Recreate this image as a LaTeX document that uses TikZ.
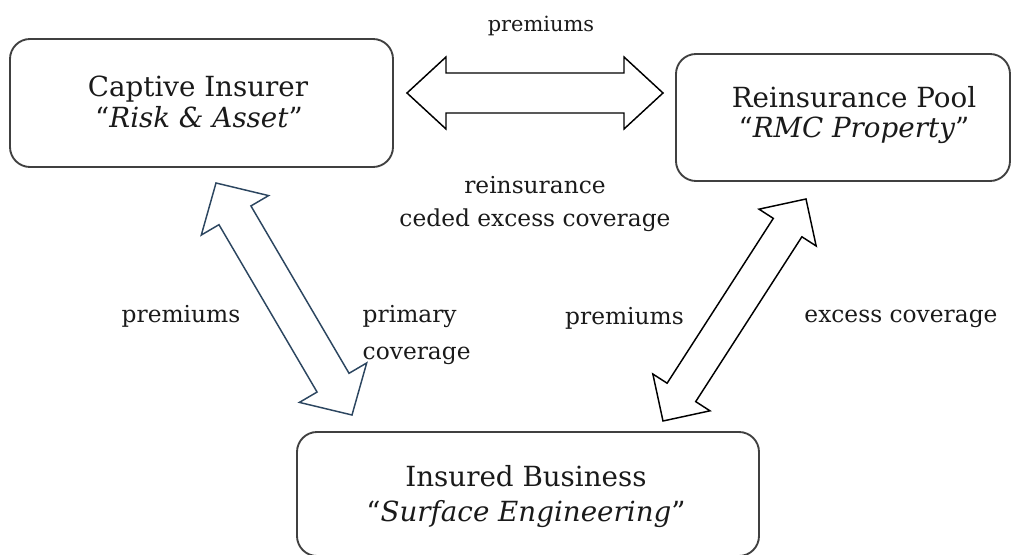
\documentclass[tikz,border=0pt]{standalone}
\usepackage{fontspec}
\setmainfont{DejaVu Serif}
\usetikzlibrary{calc}
\definecolor{boxline}{HTML}{404040}
\definecolor{bluearrow}{HTML}{2C4660}
\definecolor{inktext}{HTML}{1A1A1A}
\newcommand{\dblarr}[6]{%
  \draw[#1] (#2)
    -- ($(#2)!#4!(#3)!#5!90:(#3)$)
    -- ($(#2)!#4!(#3)!#6!90:(#3)$)
    -- ($(#3)!#4!(#2)!#6!-90:(#2)$)
    -- ($(#3)!#4!(#2)!#5!-90:(#2)$)
    -- (#3)
    -- ($(#3)!#4!(#2)!#5!90:(#2)$)
    -- ($(#3)!#4!(#2)!#6!90:(#2)$)
    -- ($(#2)!#4!(#3)!#6!-90:(#3)$)
    -- ($(#2)!#4!(#3)!#5!-90:(#3)$)
    -- cycle;}
\begin{document}
\begin{tikzpicture}[x=0.75pt,y=-0.75pt,
  entity/.style={draw=boxline, line width=1.4pt, rounded corners=15pt, inner sep=0pt},
  title/.style={anchor=base, text=inktext, font=\fontsize{20.8pt}{24pt}\selectfont},
  lbl/.style={anchor=base, text=inktext, font=\fontsize{17.5pt}{21pt}\selectfont},
  toplbl/.style={anchor=base, text=inktext, font=\fontsize{15.7pt}{19pt}\selectfont},
  flowarrow/.style={line width=1.1pt, line join=miter, fill=white},
]
\useasboundingbox (0,0) rectangle (1011,555);

% boxes
\node[entity, minimum width=287.25pt, minimum height=96pt] (captive) at (201.5,103) {};
\node[entity, minimum width=250.5pt, minimum height=95.25pt] (pool) at (843,117.5) {};
\node[entity, minimum width=346.5pt, minimum height=93pt] (insured) at (528,494) {};

% box texts
\node[title] (captiveA) at (198,97) {Captive Insurer};
\node[title] (captiveB) at (199,128) {“\textit{Risk \& Asset}”};
\node[title] (poolA) at (854,108) {Reinsurance Pool};
\node[title] (poolB) at (854,138) {“\textit{RMC Property}”};
\node[title] (insuredA) at (526,487) {Insured Business};
\node[title] (insuredB) at (526,522) {“\textit{Surface Engineering}”};

% arrow end points
\coordinate (topL) at (407,93);
\coordinate (topR) at (663,93);
\coordinate (leftT) at (216,183);
\coordinate (leftB) at (352,415);
\coordinate (rightT) at (806,199);
\coordinate (rightB) at (663,421);

\dblarr{flowarrow, draw=black}{topL}{topR}{29.25pt}{27pt}{15pt}
\dblarr{flowarrow, draw=bluearrow}{leftT}{leftB}{28.1pt}{29.25pt}{13.9pt}
\dblarr{flowarrow, draw=black}{rightT}{rightB}{25.5pt}{25.5pt}{12.75pt}

% labels
\node[toplbl] (premTop) at (541,32) {premiums};
\node[lbl] (reinsA) at (535,194) {reinsurance};
\node[lbl] (reinsB) at (535,227) {ceded excess coverage};
\node[lbl] (premLeft) at (181,323) {premiums};
\node[lbl, anchor=base west] (primA) at (358,323) {primary};
\node[lbl, anchor=base west] (primB) at (358,360) {coverage};
\node[lbl] (premRight) at (624.5,325) {premiums};
\node[lbl] (excess) at (901,323) {excess coverage};
\end{tikzpicture}
\end{document}
